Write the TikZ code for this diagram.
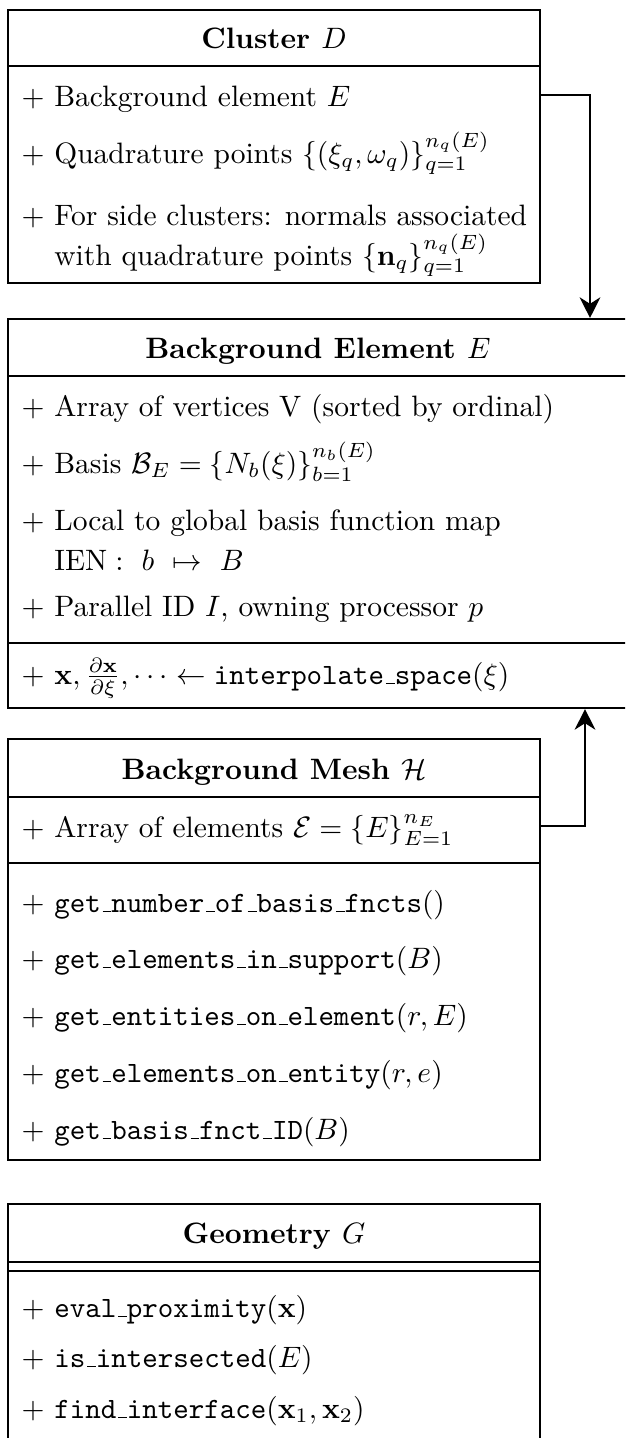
\documentclass[tikz,border=0pt]{standalone}
\usepackage{amsmath}
\usepackage{tikz}
\usetikzlibrary{arrows.meta,fit}

\newcommand{\tunder}{\leavevmode\kern.06em\vbox{\hrule width.3em}}

\tikzset{
  classbox/.style={draw, line width=0.7pt, inner sep=0pt},
  classname/.style={anchor=base, inner sep=0pt, font=\bfseries},
  member/.style={anchor=base west, inner sep=0pt},
  sepline/.style={line width=0.7pt},
  link/.style={line width=0.7pt, -{Stealth[length=7pt,width=7pt,inset=2.2pt]}},
}

\begin{document}
\begin{tikzpicture}[x=0.339pt, y=-0.339pt]
  \clip (0,0) rectangle (625,1438);
  % class boxes
  \node[classbox, fit={(8,10) (540,283)}] (cluster) {};
  \node[classbox, fit={(8,319) (628,708)}] (elem) {};
  \node[classbox, fit={(8,739) (540,1160)}] (mesh) {};
  \node[classbox, fit={(8,1204) (540,1450)}] (geom) {};
  % compartments
  \draw[sepline] (8,66) -- (540,66);
  \draw[sepline] (8,376) -- (628,376);
  \draw[sepline] (8,643) -- (628,643);
  \draw[sepline] (8,797) -- (540,797);
  \draw[sepline] (8,863) -- (540,863);
  \draw[sepline] (8,1262) -- (540,1262);
  \draw[sepline] (8,1271) -- (540,1271);
  % cluster
  \node[classname] (clname) at (274,48) {Cluster $D$};
  \node[member] (clbg) at (21,106) {$+$ Background element $E$};
  \node[member] (clquad) at (21,163) {$+$ Quadrature points $\{(\xi_q,\omega_q)\}_{q=1}^{n_q(E)}$};
  \node[member] (clside) at (21,225) {$+$ For side clusters: normals associated};
  \node[member] (clnorm) at (21,265) {\phantom{$+$} with quadrature points $\{\mathbf{n}_q\}_{q=1}^{n_q(E)}$};
  % background element
  \node[classname] (elname) at (318,358) {Background Element $E$};
  \node[member] (elvert) at (21,416) {$+$ Array of vertices V (sorted by ordinal)};
  \node[member] (elbasis) at (21,473) {$+$ Basis $\mathcal{B}_E = \{N_b(\xi)\}_{b=1}^{n_b(E)}$};
  \node[member] (elmap) at (21,530) {$+$ Local to global basis function map};
  \node[member] (elien) at (21,570) {\phantom{$+$} $\mathrm{IEN}:\ b\ \mapsto\ B$};
  \node[member] (elpar) at (21,616) {$+$ Parallel ID $I$, owning processor $p$};
  \node[member] (elinterp) at (21,684) {$+$ $\mathbf{x}, \frac{\partial\mathbf{x}}{\partial\xi}, \cdots \leftarrow \texttt{interpolate\tunder space}(\xi)$};
  % background mesh
  \node[classname] (mename) at (274,779) {Background Mesh $\mathcal{H}$};
  \node[member] (meelems) at (21,837) {$+$ Array of elements $\mathcal{E} = \{E\}_{E=1}^{n_E}$};
  \node[member] (menum) at (21,912) {$+$ \texttt{get\tunder number\tunder of\tunder basis\tunder fncts}$()$};
  \node[member] (mesupp) at (21,968) {$+$ \texttt{get\tunder elements\tunder in\tunder support}$(B)$};
  \node[member] (meent) at (21,1025) {$+$ \texttt{get\tunder entities\tunder on\tunder element}$(r,E)$};
  \node[member] (meonent) at (21,1082) {$+$ \texttt{get\tunder elements\tunder on\tunder entity}$(r,e)$};
  \node[member] (meid) at (21,1139) {$+$ \texttt{get\tunder basis\tunder fnct\tunder ID}$(B)$};
  % geometry
  \node[classname] (geoname) at (274,1243) {Geometry $G$};
  \node[member] (geoprox) at (21,1317) {$+$ \texttt{eval\tunder proximity}$(\mathbf{x})$};
  \node[member] (geoint) at (21,1367) {$+$ \texttt{is\tunder intersected}$(E)$};
  \node[member] (geofind) at (21,1418) {$+$ \texttt{find\tunder interface}$(\mathbf{x}_1,\mathbf{x}_2)$};
  % associations
  \coordinate (bend1) at (590,95);
  \coordinate (bend2) at (585,826);
  \draw[link] (cluster.east |- bend1) -| (elem.north -| bend1);
  \draw[link] (mesh.east |- bend2) -| (elem.south -| bend2);
\end{tikzpicture}
\end{document}
